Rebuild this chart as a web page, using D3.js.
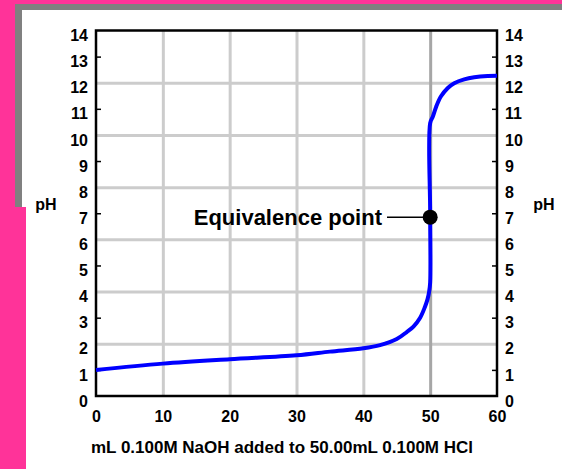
<!DOCTYPE html>
<meta charset="utf-8">
<style>
body { margin: 0; font-family: Arial, "Liberation Sans", sans-serif; }
.lbl { font-weight: bold; fill: #000; }
.grid line { stroke: #cccccc; stroke-width: 3; }
.grid path { display: none; }
.tick50 line { stroke: #a6a6a6; }
</style>
<head>
<script src="https://d3js.org/d3.v7.min.js"></script>
</head>
<body>
<script>

// titration data
var volume = [0, 10, 20, 30, 35, 40, 42.5, 45, 46.5, 47.5, 48.5, 49.2, 49.6, 49.85, 50, 50, 50,
              50.4, 50.9, 51.6, 52.6, 53.6, 55.1, 56.6, 58.6, 60];
var pH = [1.0, 1.24, 1.41, 1.56, 1.70, 1.83, 1.95, 2.18, 2.45, 2.66, 3.0, 3.4, 3.7, 4.0, 4.35, 7.0, 10.45,
          10.7, 11.08, 11.47, 11.79, 11.98, 12.13, 12.21, 12.26, 12.27];

var xTicks = [0, 10, 20, 30, 40, 50, 60];
var yTicks = d3.range(0, 15);
var yGrid = [2, 4, 6, 8, 10, 12];
var yMinor = [1, 3, 5, 7, 9, 11, 13];
var xGrid = [10, 20, 30, 40, 50];

var eqPoint = [50, 6.85];
var eqLabel = "Equivalence point";
var xTitle = "mL 0.100M NaOH added to 50.00mL 0.100M HCl";

var W = 562, H = 469;
var pLeft = 96, pRight = 497, pTop = 30.5, pBottom = 396;

var svg = d3.select("body").append("svg")
    .attr("width", W)
    .attr("height", H);

// page background: pink, grey frame, white card
svg.append("rect").attr("width", W).attr("height", H).attr("fill", "#ff3399");
svg.append("rect").attr("x", 15).attr("y", 4).attr("width", W - 15).attr("height", H - 4).attr("fill", "#808080");
svg.append("rect").attr("x", 22).attr("y", 10).attr("width", W - 22).attr("height", H - 10).attr("fill", "#ffffff");
svg.append("rect").attr("x", 0).attr("y", 207).attr("width", 26).attr("height", H - 207).attr("fill", "#ff3399");

var x = d3.scaleLinear().domain([0, 60]).range([pLeft, pRight]);
var y = d3.scaleLinear().domain([0, 14]).range([pBottom, pTop]);

// grid
svg.append("g")
    .attr("class", "grid")
    .attr("transform", "translate(" + pLeft + ",0)")
    .call(d3.axisLeft(y).tickValues(yGrid).tickSize(-(pRight - pLeft)).tickFormat(""));

svg.append("g")
    .attr("class", "grid")
    .attr("transform", "translate(0," + pBottom + ")")
    .call(d3.axisBottom(x).tickValues(xGrid).tickSize(-(pBottom - pTop)).tickFormat(""))
    .selectAll(".tick")
    .classed("tick50", function(d) { return d === 50; });

// minor inward ticks on both sides
svg.append("g")
    .attr("transform", "translate(" + pLeft + ",0)")
    .call(d3.axisLeft(y).tickValues(yMinor).tickSize(-5).tickFormat(""))
    .call(function(g) { g.select(".domain").remove(); })
    .selectAll("line").attr("stroke", "#000").attr("stroke-width", 1.5);

svg.append("g")
    .attr("transform", "translate(" + pRight + ",0)")
    .call(d3.axisRight(y).tickValues(yMinor).tickSize(-5).tickFormat(""))
    .call(function(g) { g.select(".domain").remove(); })
    .selectAll("line").attr("stroke", "#000").attr("stroke-width", 1.5);

// tick labels
var yl = svg.append("g")
    .attr("transform", "translate(" + pLeft + ",0)")
    .call(d3.axisLeft(y).tickValues(yTicks).tickSize(0).tickPadding(8));
yl.select(".domain").remove();
yl.selectAll("text").attr("class", "lbl").attr("font-size", 16).attr("y", 5)
    .attr("font-family", "Arial, 'Liberation Sans', sans-serif");

var yr = svg.append("g")
    .attr("transform", "translate(" + pRight + ",0)")
    .call(d3.axisRight(y).tickValues(yTicks).tickSize(0).tickPadding(8));
yr.select(".domain").remove();
yr.selectAll("text").attr("class", "lbl").attr("font-size", 16).attr("y", 5)
    .attr("font-family", "Arial, 'Liberation Sans', sans-serif");

var xl = svg.append("g")
    .attr("transform", "translate(0," + pBottom + ")")
    .call(d3.axisBottom(x).tickValues(xTicks).tickSize(0).tickPadding(15));
xl.select(".domain").remove();
xl.selectAll("text").attr("class", "lbl").attr("font-size", 16)
    .attr("font-family", "Arial, 'Liberation Sans', sans-serif");

// frame
svg.append("rect")
    .attr("x", pLeft).attr("y", pTop)
    .attr("width", pRight - pLeft).attr("height", pBottom - pTop)
    .attr("fill", "none").attr("stroke", "#000").attr("stroke-width", 2.5);

// curve
var line = d3.line()
    .x(function(d) { return x(d[0]); })
    .y(function(d) { return y(d[1]); })
    .curve(d3.curveCatmullRom.alpha(0.5));

svg.append("path")
    .datum(d3.zip(volume, pH))
    .attr("d", line)
    .attr("fill", "none")
    .attr("stroke", "#0000ff")
    .attr("stroke-width", 4);

// equivalence point + label
svg.append("line")
    .attr("x1", 387).attr("x2", x(eqPoint[0]))
    .attr("y1", y(eqPoint[1])).attr("y2", y(eqPoint[1]))
    .attr("stroke", "#000").attr("stroke-width", 1.5);

svg.append("circle")
    .attr("cx", x(eqPoint[0])).attr("cy", y(eqPoint[1]))
    .attr("r", 7.5).attr("fill", "#000");

svg.append("text")
    .attr("class", "lbl")
    .attr("x", 382).attr("y", y(eqPoint[1]) + 8)
    .attr("text-anchor", "end")
    .attr("font-size", 22)
    .text(eqLabel);

// axis titles
svg.append("text").attr("class", "lbl")
    .attr("x", 46).attr("y", 209.5).attr("text-anchor", "middle")
    .attr("font-size", 16).text("pH");

svg.append("text").attr("class", "lbl")
    .attr("x", 544).attr("y", 210).attr("text-anchor", "middle")
    .attr("font-size", 16).text("pH");

svg.append("text").attr("class", "lbl")
    .attr("x", 282).attr("y", 452.5).attr("text-anchor", "middle")
    .attr("font-size", 17).text(xTitle);

</script>
</body>
</html>
